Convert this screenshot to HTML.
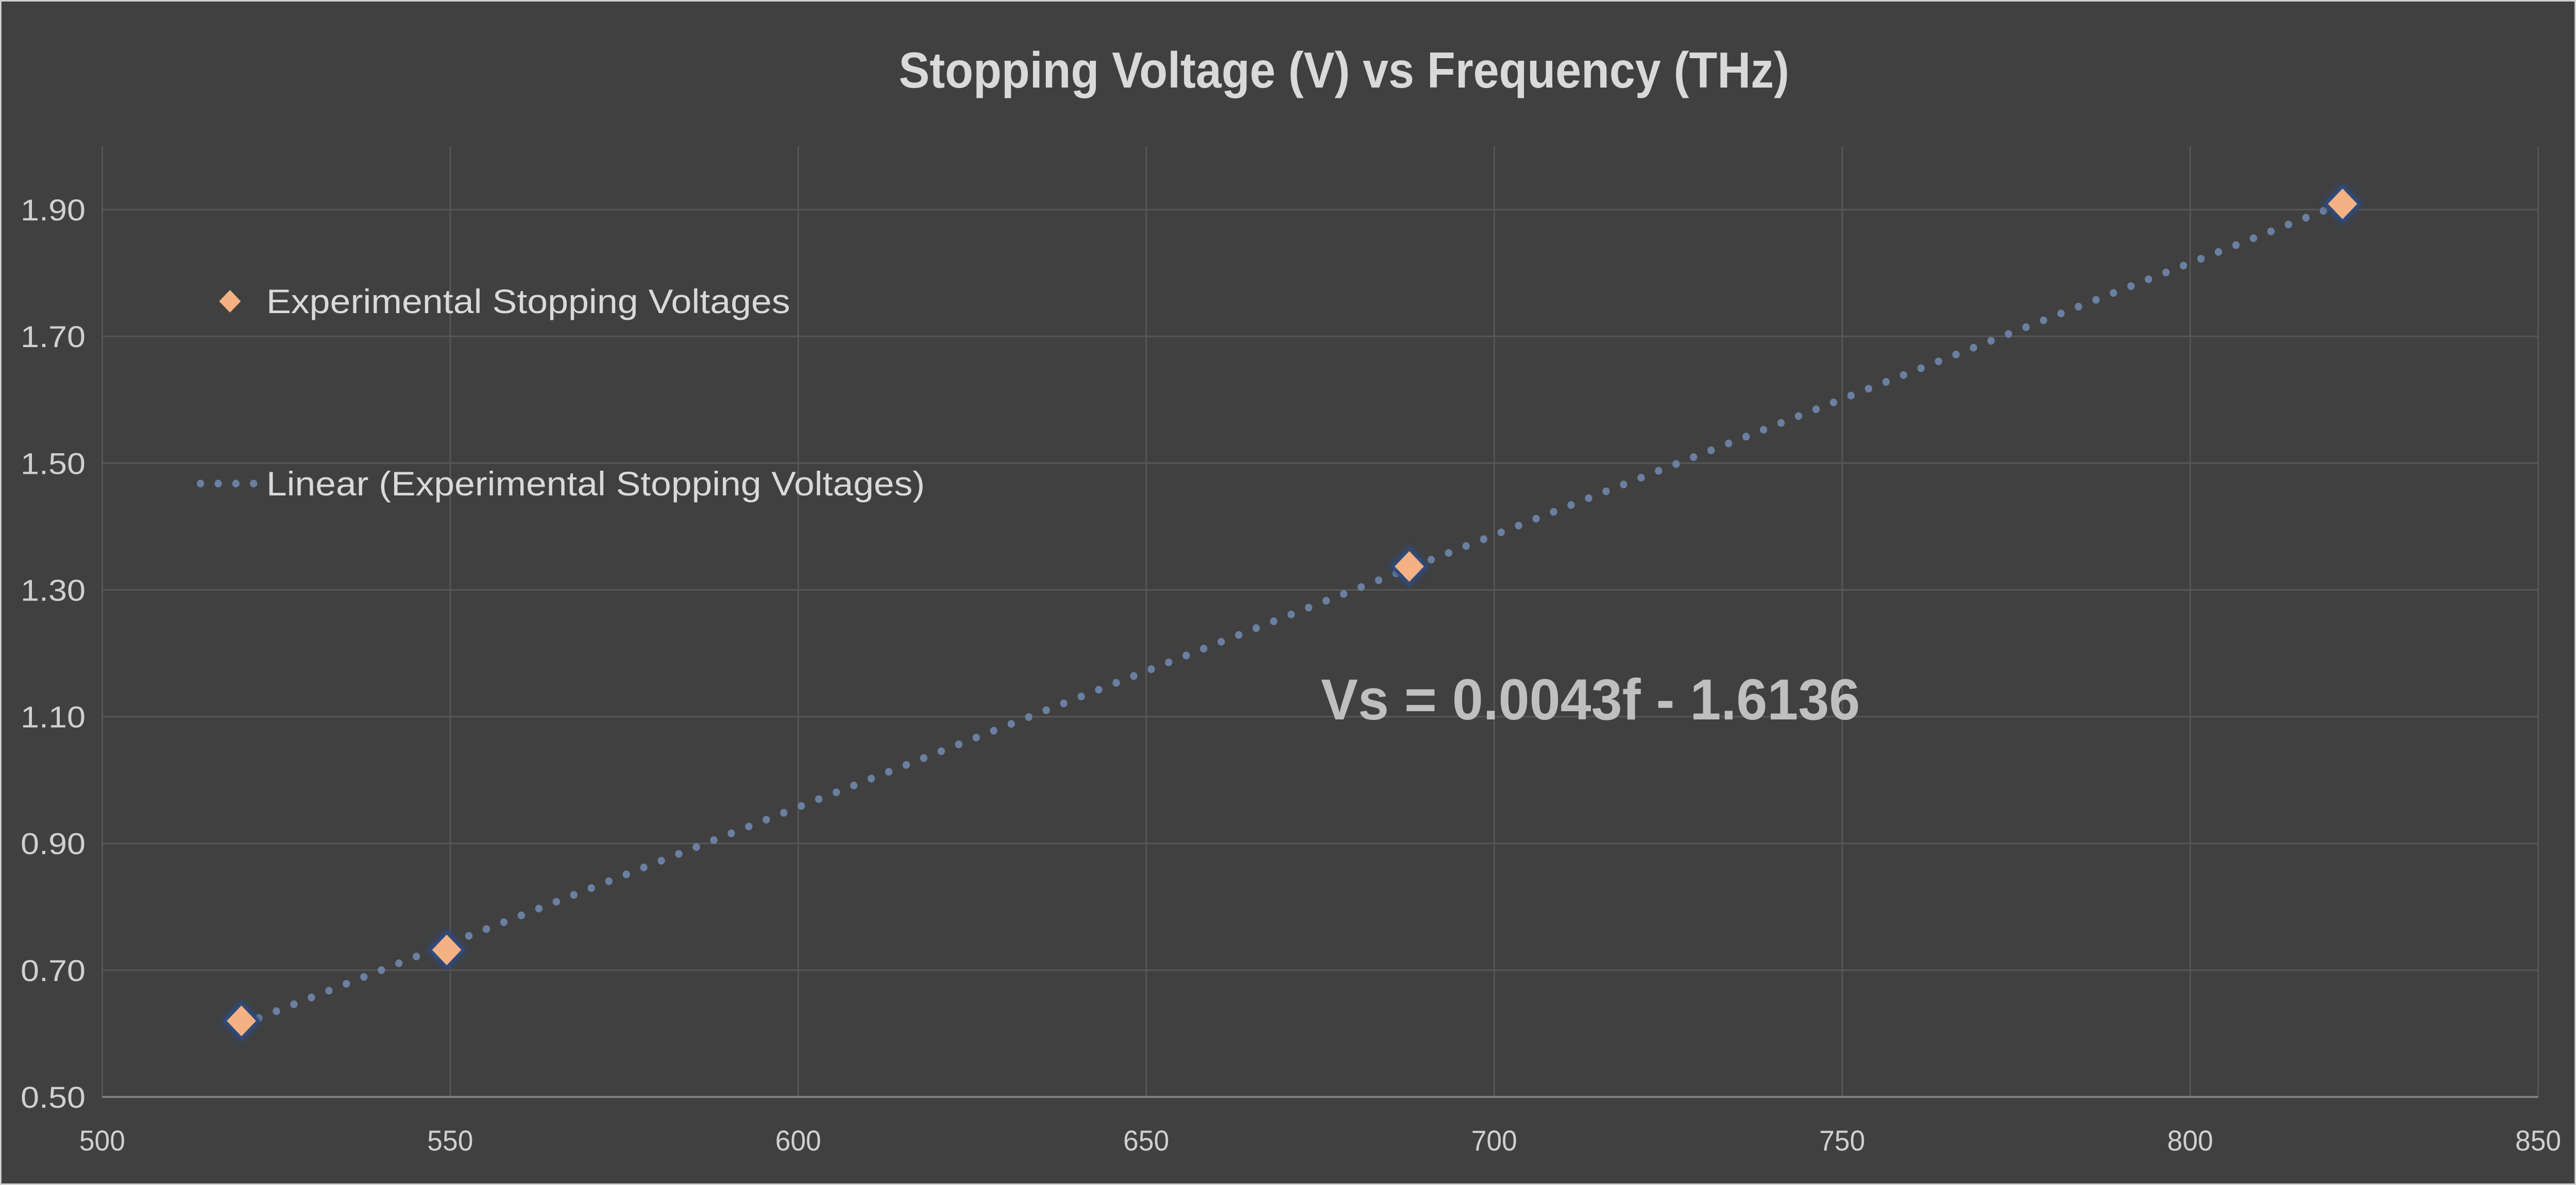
<!DOCTYPE html>
<html><head><meta charset="utf-8"><style>
html,body{margin:0;padding:0;background:#404040;overflow:hidden;width:100%;height:100%;}
svg{display:block;width:100vw;height:100vh;font-family:"Liberation Sans","DejaVu Sans",sans-serif;}
</style></head><body>
<svg id="chart" viewBox="0 0 5242 2301" preserveAspectRatio="none">
<defs>
<filter id="glow" x="-50%" y="-50%" width="200%" height="200%">
<feGaussianBlur stdDeviation="6"/>
</filter>
</defs>
<rect x="0" y="0" width="5242" height="2301" fill="#404040" stroke="#d0d0d0" stroke-width="6"/>
<text x="2735" y="170" text-anchor="middle" font-size="98" font-weight="bold" fill="#d9d9d9" textLength="1812" lengthAdjust="spacingAndGlyphs">Stopping Voltage (V) vs Frequency (THz)</text>
<g id="grid"></g>
<g id="axes"></g>
<g id="trend"></g>
<g id="points"></g>
<g>
  <g>
    <polygon points="468,563 490,585 468,607 446,585" fill="#f4b183"/>
    <text x="542" y="608" font-size="66" fill="#d9d9d9" textLength="1066" lengthAdjust="spacingAndGlyphs">Experimental Stopping Voltages</text>
  </g>
  <g>
    <line x1="408" y1="939" x2="535" y2="939" stroke="#6b7fa0" stroke-width="15" stroke-linecap="round" stroke-dasharray="0 36"/>
    <text x="542" y="962" font-size="66" fill="#d9d9d9" textLength="1340" lengthAdjust="spacingAndGlyphs">Linear (Experimental Stopping Voltages)</text>
  </g>
</g>
<text x="2688" y="1397" font-size="112" font-weight="bold" fill="#bfbfbf" textLength="1097" lengthAdjust="spacingAndGlyphs">Vs = 0.0043f - 1.6136</text>
</svg>
<script>
const frequencies = [520.0, 549.5, 687.8, 821.9];
const voltages = [0.620, 0.732, 1.337, 1.909];
const xTicks = [500, 550, 600, 650, 700, 750, 800, 850];
const yTicks = [0.50, 0.70, 0.90, 1.10, 1.30, 1.50, 1.70, 1.90];
const NS = "http://www.w3.org/2000/svg";
const L = 208, R = 5165, B = 2130, T = 284;
function sx(v){ return L + (v - 500) / 350 * (R - L); }
function sy(v){ return B - (v - 0.5) / 1.4 * (2130 - 407); }
function mk(tag, attrs, parent){ const e = document.createElementNS(NS, tag); for (const k in attrs) e.setAttribute(k, attrs[k]); parent.appendChild(e); return e; }
const grid = document.getElementById('grid'), axes = document.getElementById('axes');
yTicks.forEach(t => {
  const y = sy(t);
  if (t > 0.5) {
    const g = mk('line', {x1: L, x2: R, y1: y, y2: y, stroke: '#575757', 'stroke-width': 3}, grid);
    
    
  }
  const lb = mk('text', {x: 174, y: y + 21, 'text-anchor': 'end', 'font-size': 58, fill: '#d0d0d0', textLength: 132, lengthAdjust: 'spacingAndGlyphs'}, axes);
  lb.textContent = t.toFixed(2);
  
  
});
xTicks.forEach(t => {
  const x = sx(t);
  const g = mk('line', {x1: x, x2: x, y1: T, y2: B, stroke: '#575757', 'stroke-width': 3}, grid);
  
  
  const lb = mk('text', {x: x, y: 2234, 'text-anchor': 'middle', 'font-size': 56, fill: '#d0d0d0'}, axes);
  lb.textContent = t;
  
  
});
const ax = mk('line', {x1: L, x2: R, y1: B, y2: B, stroke: '#808080', 'stroke-width': 4}, axes);


const n = frequencies.length;
const mx = frequencies.reduce((a,b)=>a+b,0)/n, my = voltages.reduce((a,b)=>a+b,0)/n;
let sxy = 0, sxx = 0;
for (let i = 0; i < n; i++){ sxy += (frequencies[i]-mx)*(voltages[i]-my); sxx += (frequencies[i]-mx)**2; }
const slope = sxy/sxx, icpt = my - slope*mx;
const fmin = Math.min(...frequencies), fmax = Math.max(...frequencies);
const tl = mk('line', {x1: sx(fmin), y1: sy(slope*fmin+icpt), x2: sx(fmax), y2: sy(slope*fmax+icpt), stroke: '#6b7fa0', 'stroke-width': 15, 'stroke-linecap': 'round', 'stroke-dasharray': '0 38'}, document.getElementById('trend'));


const pts = document.getElementById('points');
frequencies.forEach((f, i) => {
  const x = sx(f), y = sy(voltages[i]), h = 34;
  const gl = mk('polygon', {points: `${x},${y-h-6} ${x+h+6},${y} ${x},${y+h+6} ${x-h-6},${y}`, fill: '#2f4a7a', filter: 'url(#glow)'}, pts);
  
  
  const p = mk('polygon', {points: `${x},${y-h} ${x+h},${y} ${x},${y+h} ${x-h},${y}`, fill: '#f4b183', stroke: '#2f4a7a', 'stroke-width': 6, 'stroke-linejoin': 'round'}, pts);
  
  
});
</script>
</body></html>
